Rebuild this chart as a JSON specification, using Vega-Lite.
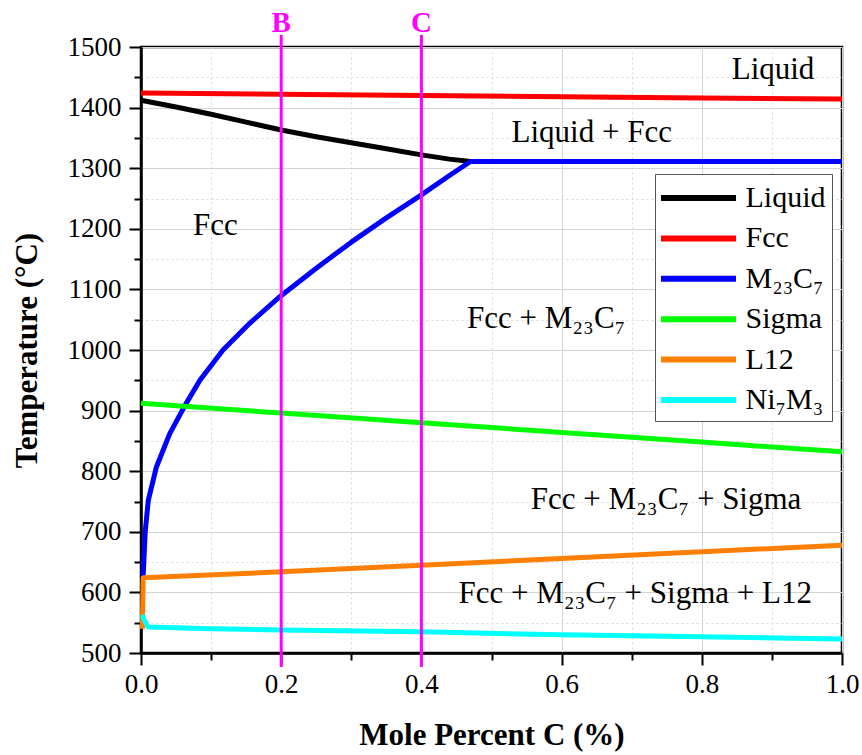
{
  "$schema": "https://vega.github.io/schema/vega-lite/v6.json",
  "width": 701,
  "height": 606,
  "autosize": {"type": "none"},
  "padding": {"left": 141, "top": 47, "right": 20, "bottom": 102},
  "background": "white",
  "config": {
    "font": "Liberation Serif",
    "view": {"stroke": "black", "strokeWidth": 2.5},
    "axis": {
      "domainColor": "black",
      "domainWidth": 2.5,
      "tickColor": "black",
      "tickWidth": 2,
      "labelFont": "Liberation Serif",
      "labelFontSize": 27,
      "labelColor": "black",
      "labelFlush": false,
      "titleFont": "Liberation Serif",
      "titleFontSize": 31,
      "titleFontWeight": "bold",
      "titleColor": "black",
      "gridColor": "#d4d4d4",
      "gridWidth": 1
    },
    "legend": {"labelFont": "Liberation Serif"},
    "text": {"font": "Liberation Serif", "color": "black"}
  },
  "datasets": {
    "phases": [
      {"phase": "Liquid", "x": 0.0, "T": 1412},
      {"phase": "Liquid", "x": 0.05, "T": 1401},
      {"phase": "Liquid", "x": 0.1, "T": 1389},
      {"phase": "Liquid", "x": 0.15, "T": 1376},
      {"phase": "Liquid", "x": 0.2, "T": 1363},
      {"phase": "Liquid", "x": 0.25, "T": 1352},
      {"phase": "Liquid", "x": 0.3, "T": 1342},
      {"phase": "Liquid", "x": 0.35, "T": 1332},
      {"phase": "Liquid", "x": 0.4, "T": 1322},
      {"phase": "Liquid", "x": 0.44, "T": 1315},
      {"phase": "Liquid", "x": 0.47, "T": 1311},
      {"phase": "Fcc", "x": 0.0, "T": 1424},
      {"phase": "Fcc", "x": 0.2, "T": 1422},
      {"phase": "Fcc", "x": 0.4, "T": 1420},
      {"phase": "Fcc", "x": 0.6, "T": 1418},
      {"phase": "Fcc", "x": 0.8, "T": 1416},
      {"phase": "Fcc", "x": 1.0, "T": 1414},
      {"phase": "M₂₃C₇", "x": 0.003, "T": 625},
      {"phase": "M₂₃C₇", "x": 0.006, "T": 700},
      {"phase": "M₂₃C₇", "x": 0.0104, "T": 752},
      {"phase": "M₂₃C₇", "x": 0.022, "T": 807},
      {"phase": "M₂₃C₇", "x": 0.041, "T": 862},
      {"phase": "M₂₃C₇", "x": 0.063, "T": 909},
      {"phase": "M₂₃C₇", "x": 0.084, "T": 950},
      {"phase": "M₂₃C₇", "x": 0.117, "T": 1000},
      {"phase": "M₂₃C₇", "x": 0.155, "T": 1044},
      {"phase": "M₂₃C₇", "x": 0.198, "T": 1088},
      {"phase": "M₂₃C₇", "x": 0.25, "T": 1135},
      {"phase": "M₂₃C₇", "x": 0.3, "T": 1178},
      {"phase": "M₂₃C₇", "x": 0.35, "T": 1218},
      {"phase": "M₂₃C₇", "x": 0.4, "T": 1256},
      {"phase": "M₂₃C₇", "x": 0.44, "T": 1288},
      {"phase": "M₂₃C₇", "x": 0.47, "T": 1311},
      {"phase": "M₂₃C₇", "x": 0.6, "T": 1311},
      {"phase": "M₂₃C₇", "x": 0.8, "T": 1311},
      {"phase": "M₂₃C₇", "x": 1.0, "T": 1311},
      {"phase": "Sigma", "x": 0.0, "T": 912},
      {"phase": "Sigma", "x": 0.2, "T": 896},
      {"phase": "Sigma", "x": 0.4, "T": 880},
      {"phase": "Sigma", "x": 0.6, "T": 864},
      {"phase": "Sigma", "x": 0.8, "T": 848},
      {"phase": "Sigma", "x": 1.0, "T": 832},
      {"phase": "L12", "x": 0.002, "T": 540},
      {"phase": "L12", "x": 0.003, "T": 624},
      {"phase": "L12", "x": 0.2, "T": 634},
      {"phase": "L12", "x": 0.4, "T": 645},
      {"phase": "L12", "x": 0.6, "T": 656},
      {"phase": "L12", "x": 0.8, "T": 667},
      {"phase": "L12", "x": 1.0, "T": 678},
      {"phase": "Ni₇M₃", "x": 0.002, "T": 563},
      {"phase": "Ni₇M₃", "x": 0.004, "T": 556},
      {"phase": "Ni₇M₃", "x": 0.01, "T": 543},
      {"phase": "Ni₇M₃", "x": 0.1, "T": 540},
      {"phase": "Ni₇M₃", "x": 0.2, "T": 538},
      {"phase": "Ni₇M₃", "x": 0.4, "T": 535},
      {"phase": "Ni₇M₃", "x": 0.6, "T": 530},
      {"phase": "Ni₇M₃", "x": 0.8, "T": 527},
      {"phase": "Ni₇M₃", "x": 1.0, "T": 523}
    ],
    "regions": [
      {"label": "Liquid", "x": 0.9016, "T": 1447},
      {"label": "Liquid + Fcc", "x": 0.643, "T": 1344},
      {"label": "Fcc", "x": 0.106, "T": 1190},
      {"label": "Fcc + M₂₃C₇", "x": 0.578, "T": 1036},
      {"label": "Fcc + M₂₃C₇ + Sigma", "x": 0.749, "T": 737},
      {"label": "Fcc + M₂₃C₇ + Sigma + L12", "x": 0.705, "T": 583}
    ],
    "compositions": [
      {"name": "B", "x": 0.2, "low": 477, "high": 1520, "labelT": 1525},
      {"name": "C", "x": 0.4, "low": 477, "high": 1520, "labelT": 1525}
    ]
  },
  "layer": [
    {
      "data": {"name": "phases"},
      "mark": {"type": "line", "strokeWidth": 5, "strokeJoin": "round"},
      "encoding": {
        "x": {
          "field": "x",
          "type": "quantitative",
          "scale": {"domain": [0, 1], "nice": false, "zero": false},
          "axis": {
            "orient": "bottom",
            "values": [0, 0.2, 0.4, 0.6, 0.8, 1.0],
            "format": ".1f",
            "tickSize": 12,
            "labelPadding": 6,
            "grid": true,
            "title": "Mole Percent C (%)",
            "titlePadding": 23
          }
        },
        "y": {
          "field": "T",
          "type": "quantitative",
          "scale": {"domain": [500, 1500], "nice": false, "zero": false},
          "axis": {
            "orient": "left",
            "values": [500, 600, 700, 800, 900, 1000, 1100, 1200, 1300, 1400, 1500],
            "format": "d",
            "tickSize": 12,
            "labelPadding": 8,
            "grid": true,
            "title": "Temperature (°C)",
            "titlePadding": 24
          }
        },
        "color": {
          "field": "phase",
          "type": "nominal",
          "scale": {
            "domain": ["Liquid", "Fcc", "M₂₃C₇", "Sigma", "L12", "Ni₇M₃"],
            "range": ["#000000", "#ff0000", "#0000ff", "#00ff00", "#ff8000", "#00ffff"]
          },
          "legend": {
            "orient": "none",
            "legendX": 514,
            "legendY": 127,
            "title": null,
            "symbolType": "M-2.5,0H2.5",
            "symbolSize": 900,
            "symbolStrokeWidth": 6,
            "symbolOffset": 19.5,
            "labelOffset": 29,
            "labelFont": "Liberation Serif",
            "labelFontSize": 30,
            "labelColor": "black",
            "rowPadding": 7.4,
            "padding": 6,
            "strokeColor": "#555555",
            "fillColor": "white"
          }
        }
      }
    },
    {
      "data": {"name": "compositions"},
      "mark": {"type": "rule", "color": "#ff00ff", "strokeWidth": 3},
      "encoding": {
        "x": {
          "field": "x",
          "type": "quantitative",
          "axis": {
            "orient": "bottom",
            "values": [0.1, 0.3, 0.5, 0.7, 0.9],
            "labels": false,
            "domain": false,
            "tickSize": 7,
            "grid": true,
            "gridDash": [2, 3],
            "gridColor": "#d8d8d8",
            "title": null
          }
        },
        "y": {
          "field": "low",
          "type": "quantitative",
          "axis": {
            "orient": "left",
            "values": [550, 650, 750, 850, 950, 1050, 1150, 1250, 1350, 1450],
            "labels": false,
            "domain": false,
            "tickSize": 7,
            "grid": true,
            "gridDash": [2, 3],
            "gridColor": "#d8d8d8",
            "title": null
          }
        },
        "y2": {"field": "high"}
      }
    },
    {
      "data": {"name": "regions"},
      "mark": {"type": "text", "align": "center", "baseline": "alphabetic", "fontSize": 31},
      "encoding": {
        "x": {"field": "x", "type": "quantitative", "axis": null},
        "y": {"field": "T", "type": "quantitative", "axis": null},
        "text": {"field": "label"}
      }
    },
    {
      "data": {"name": "compositions"},
      "mark": {"type": "text", "align": "center", "baseline": "alphabetic", "fontSize": 29, "fontWeight": "bold", "color": "#ff00ff"},
      "encoding": {
        "x": {"field": "x", "type": "quantitative", "axis": null},
        "y": {"field": "labelT", "type": "quantitative", "axis": null},
        "text": {"field": "name"}
      }
    }
  ],
  "resolve": {"axis": {"x": "independent", "y": "independent"}}
}
